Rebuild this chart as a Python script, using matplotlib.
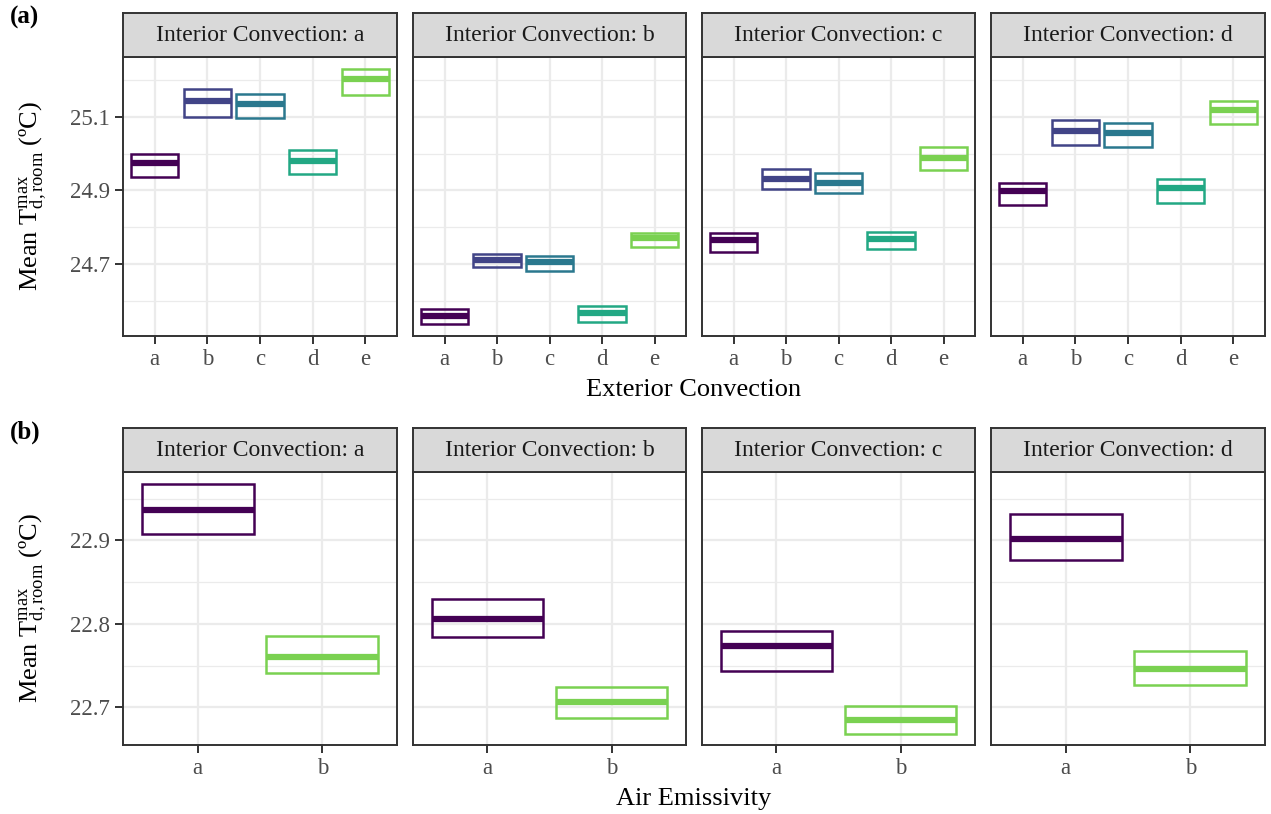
import numpy as np
import matplotlib
matplotlib.use("Agg")
import matplotlib.pyplot as plt
from matplotlib.ticker import FixedLocator

plt.rcParams['font.family'] = ['Liberation Serif', 'DejaVu Serif']
plt.rcParams['mathtext.fontset'] = 'custom'
plt.rcParams['mathtext.rm'] = 'Liberation Serif'
plt.rcParams['mathtext.it'] = 'Liberation Serif:italic'

# facet labels and categories
interior = ['a', 'b', 'c', 'd']
exterior = ['a', 'b', 'c', 'd', 'e']
emissivity = ['a', 'b']

# (a) mean / lower / upper per interior convection, one value per exterior level
ext_mean = [
    [24.975, 25.143, 25.135, 24.981, 25.203],
    [24.558, 24.710, 24.704, 24.566, 24.770],
    [24.765, 24.930, 24.921, 24.768, 24.987],
    [24.899, 25.063, 25.056, 24.906, 25.118],
]
ext_low = [
    [24.936, 25.099, 25.096, 24.944, 25.160],
    [24.537, 24.692, 24.682, 24.543, 24.746],
    [24.733, 24.903, 24.892, 24.742, 24.956],
    [24.860, 25.023, 25.018, 24.867, 25.081],
]
ext_high = [
    [25.000, 25.175, 25.162, 25.010, 25.231],
    [24.578, 24.728, 24.722, 24.586, 24.784],
    [24.785, 24.958, 24.947, 24.788, 25.018],
    [24.921, 25.091, 25.083, 24.930, 25.144],
]

# (b) mean / lower / upper per interior convection, one value per air emissivity level
emi_mean = [[22.937, 22.761], [22.806, 22.706], [22.774, 22.685], [22.902, 22.746]]
emi_low = [[22.908, 22.741], [22.784, 22.687], [22.744, 22.668], [22.876, 22.727]]
emi_high = [[22.968, 22.785], [22.830, 22.725], [22.792, 22.702], [22.932, 22.768]]

pal5 = ['#440154', '#414487', '#2A788E', '#22A884', '#7AD151']
pal2 = ['#440154', '#7AD151']

W, H = 1271, 814
fig = plt.figure(figsize=(W / 100, H / 100), dpi=100)


def box(x0, y0, x1, y1):
    return [x0 / W, 1 - y1 / H, (x1 - x0) / W, (y1 - y0) / H]


panel_x = [(123, 397), (413, 686), (702, 975), (991, 1265)]
dark = '#333333'
ylabel = r'Mean $\mathrm{T}^{\mathrm{max}}_{\mathrm{d,room}}$ (ºC)'


def draw_row(top, bottom, cats, means, lows, highs, colors, ylim, major, minor, xlabel, tag):
    axes = []
    for i, (x0, x1) in enumerate(panel_x):
        ax = fig.add_axes(box(x0, top, x1, bottom))
        xs = np.arange(len(cats))
        heights = np.array(highs[i]) - np.array(lows[i])
        ax.bar(xs, heights, bottom=lows[i], width=0.9, fill=False,
               edgecolor=colors, linewidth=1.8, zorder=3)
        ax.hlines(means[i], xs - 0.45, xs + 0.45, colors=colors, linewidth=4.5, zorder=3)
        ax.set_xlim(-0.6, len(cats) - 0.4)
        ax.set_ylim(*ylim)
        ax.set_xticks(xs)
        ax.set_xticklabels(cats)
        ax.yaxis.set_major_locator(FixedLocator(major))
        ax.yaxis.set_minor_locator(FixedLocator(minor))
        ax.grid(True, which='major', color='#EBEBEB', linewidth=1.6, zorder=0)
        ax.grid(True, which='minor', axis='y', color='#EBEBEB', linewidth=0.9, zorder=0)
        ax.set_axisbelow(True)
        ax.tick_params(axis='both', which='major', length=5.5, width=1.4, color=dark,
                       labelsize=16.5, labelcolor='#4D4D4D', pad=4)
        ax.tick_params(axis='y', which='minor', length=0)
        for s in ax.spines.values():
            s.set_color(dark)
            s.set_linewidth(1.4)
        if i == 0:
            ax.set_yticklabels([f'{v:.1f}' for v in major])
            ax.set_ylabel(ylabel, fontsize=19, labelpad=15)
        else:
            ax.set_yticklabels([])
            ax.tick_params(axis='y', length=0)
        # facet strip
        st = fig.add_axes(box(x0, top - 44, x1, top))
        st.set_facecolor('#D9D9D9')
        st.set_xticks([])
        st.set_yticks([])
        for s in st.spines.values():
            s.set_color(dark)
            s.set_linewidth(1.4)
        st.text(0.5, 0.48, f'Interior Convection: {interior[i]}', ha='center', va='center',
                fontsize=17, color='#1A1A1A', transform=st.transAxes)
        axes.append(ax)
    fig.text((123 + 1265) / 2 / W, 1 - (bottom + 54) / H, xlabel, ha='center', va='center',
             fontsize=19)
    fig.text(10 / W, 1 - (top - 40) / H, tag, ha='left', va='center', fontsize=18,
             fontweight='bold')
    return axes


draw_row(57, 336, exterior, ext_mean, ext_low, ext_high, pal5,
         (24.504, 25.263), [24.7, 24.9, 25.1], [24.6, 24.8, 25.0, 25.2],
         'Exterior Convection', '(a)')
draw_row(472, 745, emissivity, emi_mean, emi_low, emi_high, pal2,
         (22.655, 22.982), [22.7, 22.8, 22.9], [22.75, 22.85, 22.95],
         'Air Emissivity', '(b)')

fig.savefig('out.png', dpi=100)
